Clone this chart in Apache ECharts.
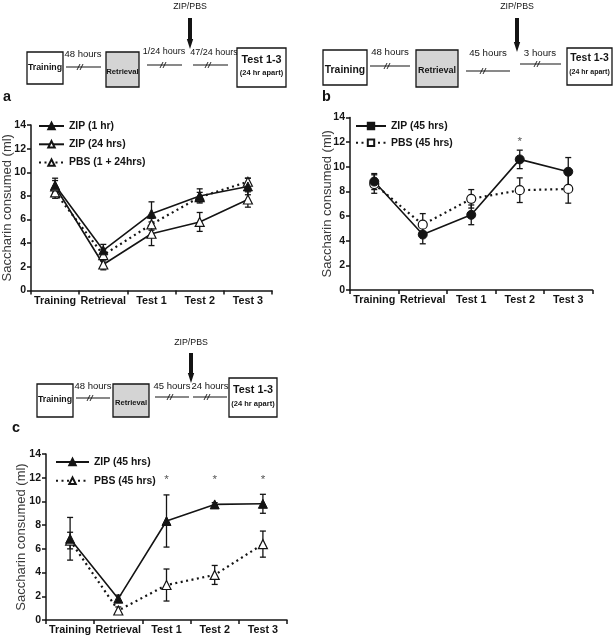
<!DOCTYPE html>
<html><head><meta charset="utf-8">
<script src="https://cdn.jsdelivr.net/npm/echarts@6/dist/echarts.min.js"></script>
<style>html,body{margin:0;padding:0;background:#fff}#chart{width:614px;height:639px}</style>
</head><body><div id="chart"></div>
<script>
// ---------- data ----------
const categories = ['Training', 'Retrieval', 'Test 1', 'Test 2', 'Test 3'];
const yMin = 0, yMax = 14, yStep = 2;

// panel a
const aZip1hr = [8.9, 3.4, 6.5, 8.0, 8.8];
const aZip1hrErr = [0.6, 0.5, 1.0, 0.6, 0.7];
const aZip24 = [8.8, 2.2, 4.8, 5.8, 7.7];
const aZip24Err = [0.5, 0.45, 1.0, 0.8, 0.65];
const aPbs = [8.3, 3.0, 5.6, 7.9, 9.2];
const aPbsErr = [0.5, 0.5, 0.5, 0.4, 0.3];

// panel b
const bZip = [8.8, 4.5, 6.1, 10.6, 9.6];
const bZipErr = [0.65, 0.75, 0.8, 0.75, 1.15];
const bPbs = [8.6, 5.3, 7.4, 8.1, 8.2];
const bPbsErr = [0.75, 0.9, 0.75, 1.0, 1.15];
const bStar = [null, null, null, 12.0, null];

// panel c
const cZip = [6.85, 1.8, 8.35, 9.75, 9.8];
const cZipErr = [1.8, 0.3, 2.2, 0.15, 0.8];
const cPbs = [6.7, 0.8, 2.95, 3.8, 6.4];
const cPbsErr = [0.7, 0.3, 1.35, 0.8, 1.1];
const cStar = [null, null, 11.8, 11.8, 11.8];

// ---------- fonts ----------
function hasFont(name) {
  const c = document.createElement('canvas').getContext('2d');
  c.font = '40px monospace';
  const w0 = c.measureText('Training Retrieval 1-3').width;
  c.font = '40px "' + name + '", monospace';
  return c.measureText('Training Retrieval 1-3').width !== w0;
}
const NARROW = hasFont('Liberation Sans Narrow');
const FF = NARROW ? '"Liberation Sans Narrow", "Liberation Sans", sans-serif' : '"Liberation Sans", Arial, sans-serif';
const S = NARROW ? 1 : 0.9;
const fs = n => Math.round(n * S * 10) / 10;
const INK = '#141414';

// ---------- helpers ----------
const grids = [
  { left: 31, top: 125, width: 241, height: 165.5 },
  { left: 350, top: 117.5, width: 242.5, height: 172.5 },
  { left: 46, top: 454, width: 241, height: 166 }
];
const nameGaps = [17, 16, 18];

function errData(vals, errs) {
  return vals.map((v, i) => [i, v - errs[i], v + errs[i]]);
}
function errSeries(vals, errs, gi) {
  return {
    type: 'custom', xAxisIndex: gi, yAxisIndex: gi, z: 1, silent: true,
    encode: { x: 0, y: [1, 2] },
    data: errData(vals, errs),
    renderItem: function (params, api) {
      const x = api.value(0);
      const lo = api.coord([x, api.value(1)]);
      const hi = api.coord([x, api.value(2)]);
      const w = 3;
      const st = { stroke: INK, lineWidth: 1.3 };
      return { type: 'group', children: [
        { type: 'line', shape: { x1: lo[0], y1: lo[1], x2: hi[0], y2: hi[1] }, style: st },
        { type: 'line', shape: { x1: lo[0] - w, y1: lo[1], x2: lo[0] + w, y2: lo[1] }, style: st },
        { type: 'line', shape: { x1: hi[0] - w, y1: hi[1], x2: hi[0] + w, y2: hi[1] }, style: st }
      ] };
    }
  };
}
function starSeries(vals, gi) {
  return {
    type: 'custom', xAxisIndex: gi, yAxisIndex: gi, z: 3, silent: true,
    encode: { x: 0, y: 1 },
    data: vals.map((v, i) => v == null ? null : [i, v]).filter(d => d),
    renderItem: function (params, api) {
      const p = api.coord([api.value(0), api.value(1)]);
      return { type: 'text', x: p[0], y: p[1],
        style: { text: '*', fill: '#555', font: fs(13) + 'px ' + FF, textAlign: 'center', textVerticalAlign: 'middle' } };
    }
  };
}
function lineSeries(name, vals, gi, o) {
  return {
    name: name, type: 'line', xAxisIndex: gi, yAxisIndex: gi, z: 2,
    data: o.pointSymbol ? vals.map(v => ({ value: v, symbol: o.pointSymbol })) : vals,
    symbol: o.symbol, symbolSize: o.size || 9,
    itemStyle: o.filled ? { color: INK, borderColor: INK, borderWidth: 1 } : { color: '#fff', borderColor: INK, borderWidth: 1.2 },
    lineStyle: { color: INK, width: o.dotted ? 2.2 : 1.6, type: o.dotted ? [2, 3.5] : 'solid' },
    emphasis: { disabled: true }, animation: false
  };
}
function legend(gi, names, left, top, gap, iw) {
  return {
    show: true, orient: 'vertical', left: left, top: top, itemWidth: iw, itemHeight: 8, itemGap: gap,
    data: names, selectedMode: false, padding: 0,
    formatter: n => n.trim(),
    textStyle: { fontFamily: FF, fontWeight: 'bold', fontSize: fs(11.5), color: INK, lineHeight: 14 }
  };
}

// ---------- schematic graphics ----------
const G = [];
function txt(t, x, y, size, bold, align) {
  G.push({ type: 'text', x: x, y: y, silent: true,
    style: { text: t, fill: INK, font: (bold ? 'bold ' : '') + fs(size) + 'px ' + FF,
      textAlign: align || 'center', textVerticalAlign: 'middle' } });
}
function box(x, y, w, h, fill) {
  G.push({ type: 'rect', silent: true, shape: { x: x, y: y, width: w, height: h },
    style: { fill: fill || '#fff', stroke: INK, lineWidth: 1.3 } });
}
function gapLine(x1, x2, y, sx, label, lx, ly, size) {
  G.push({ type: 'line', silent: true, shape: { x1: x1, y1: y, x2: x2, y2: y }, style: { stroke: INK, lineWidth: 1.1 } });
  [-1.5, 1.5].forEach(d => G.push({ type: 'line', silent: true,
    shape: { x1: sx + d - 1.5, y1: y + 3, x2: sx + d + 1.5, y2: y - 3 }, style: { stroke: INK, lineWidth: 0.9 } }));
  txt(label, lx, ly, size || 10.5, false);
}
function arrow(x, ty, y0, y1) {
  txt('ZIP/PBS', x, ty, 9.8, false);
  const yh = y1 - 10;
  G.push({ type: 'polygon', silent: true,
    shape: { points: [[x - 2, y0], [x + 2, y0], [x + 2, yh], [x + 3.2, yh], [x, y1], [x - 3.2, yh], [x - 2, yh]] },
    style: { fill: INK } });
}
function testBox(x, y, w, h, cy1, cy2, s1, s2) {
  box(x, y, w, h);
  txt('Test 1-3', x + w / 2, cy1, s1, true);
  txt('(24 hr apart)', x + w / 2, cy2, s2, true);
}
// a
box(27, 52, 36, 32); txt('Training', 45, 68, 9.8, true);
gapLine(66, 101, 67, 80, '48 hours', 83, 54, 10.5);
box(106, 52, 33, 35, '#d4d4d4'); txt('Retrieval', 122.5, 72, 8.6, true);
gapLine(147, 182, 65, 163, '1/24 hours', 164, 52, 10);
arrow(190, 7, 18, 49);
gapLine(193, 228, 65, 208, '47/24 hours', 214, 53, 10);
testBox(237, 48, 49, 39, 60, 73, 12, 8.3);
txt('a', 3, 97, 16, true, 'left');
// b
box(323, 50, 44, 35); txt('Training', 345, 70, 11.5, true);
gapLine(370, 410, 66, 387, '48 hours', 390, 52, 10.8);
box(416, 50, 42, 37, '#d4d4d4'); txt('Retrieval', 437, 71, 10, true);
gapLine(466, 510, 71, 483, '45 hours', 488, 53, 10.8);
arrow(517, 7, 18, 52);
gapLine(520, 561, 64, 537, '3 hours', 540, 53, 10.8);
testBox(567, 48, 45, 37, 58, 72, 11.5, 7.8);
txt('b', 322, 97, 16, true, 'left');
// c
box(37, 384, 36, 33); txt('Training', 55, 400, 9.8, true);
gapLine(76, 110, 398, 90, '48 hours', 93, 386, 10.5);
box(113, 384, 36, 33, '#d4d4d4'); txt('Retrieval', 131, 403, 8.4, true);
gapLine(155, 189, 397, 170, '45 hours', 172, 386, 10.5);
arrow(191, 343, 353, 383);
gapLine(193, 227, 397, 207, '24 hours', 210, 386, 10.5);
testBox(229, 378, 48, 39, 390, 404, 12, 8.3);
txt('c', 12, 428, 16, true, 'left');

// ---------- axes ----------
const xAxes = grids.map((g, i) => ({
  type: 'category', gridIndex: i, data: categories, boundaryGap: true,
  axisLine: { lineStyle: { color: INK, width: 1.5 } },
  axisTick: { show: true, length: 4, inside: false, lineStyle: { color: INK, width: 1.5 } },
  axisLabel: { fontFamily: FF, fontWeight: 'bold', fontSize: NARROW ? 12.3 : 10.8, color: INK, margin: 5, interval: 0 },
  splitLine: { show: false }
}));
const yAxes = grids.map((g, i) => ({
  type: 'value', gridIndex: i, min: yMin, max: yMax, interval: yStep,
  name: 'Saccharin consumed (ml)', nameLocation: 'middle', nameGap: nameGaps[i], nameMoveOverlap: false,
  nameTextStyle: { fontFamily: '"Liberation Sans", Arial, sans-serif', fontSize: 13, color: '#3a3a3a' },
  axisLine: { show: true, lineStyle: { color: INK, width: 1.5 } },
  axisTick: { show: true, length: 4, lineStyle: { color: INK, width: 1.5 } },
  axisLabel: { fontFamily: FF, fontWeight: 'bold', fontSize: NARROW ? 12 : 10.5, color: INK, margin: 5 },
  splitLine: { show: false }
}));

const series = [
  errSeries(aZip1hr, aZip1hrErr, 0), errSeries(aZip24, aZip24Err, 0), errSeries(aPbs, aPbsErr, 0),
  lineSeries('PBS (1 + 24hrs)', aPbs, 0, { symbol: 'triangle', filled: false, dotted: true }),
  lineSeries('ZIP (24 hrs)', aZip24, 0, { symbol: 'triangle', filled: false }),
  lineSeries('ZIP (1 hr)', aZip1hr, 0, { symbol: 'triangle', filled: true }),

  errSeries(bZip, bZipErr, 1), errSeries(bPbs, bPbsErr, 1),
  lineSeries('PBS (45 hrs)', bPbs, 1, { symbol: 'rect', pointSymbol: 'circle', filled: false, dotted: true }),
  lineSeries('ZIP (45 hrs)', bZip, 1, { symbol: 'rect', pointSymbol: 'circle', filled: true }),
  starSeries(bStar, 1),

  errSeries(cZip, cZipErr, 2), errSeries(cPbs, cPbsErr, 2),
  lineSeries('PBS (45 hrs) ', cPbs, 2, { symbol: 'triangle', filled: false, dotted: true }),
  lineSeries('ZIP (45 hrs) ', cZip, 2, { symbol: 'triangle', filled: true }),
  starSeries(cStar, 2)
];

const chart = echarts.init(document.getElementById('chart'), null, { renderer: 'canvas' });
chart.setOption({
  animation: false,
  backgroundColor: '#fff',
  grid: grids.map(g => Object.assign({ outerBoundsMode: 'none', containLabel: false }, g)),
  xAxis: xAxes,
  yAxis: yAxes,
  legend: [
    legend(0, ['ZIP (1 hr)', 'ZIP (24 hrs)', 'PBS (1 + 24hrs)'], 38, 119, 4.3, 25),
    legend(1, ['ZIP (45 hrs)', 'PBS (45 hrs)'], 355, 119, 2.7, 30),
    legend(2, ['ZIP (45 hrs) ', 'PBS (45 hrs) '], 55, 455, 4.7, 33)
  ],
  graphic: G,
  series: series
});
</script></body></html>
